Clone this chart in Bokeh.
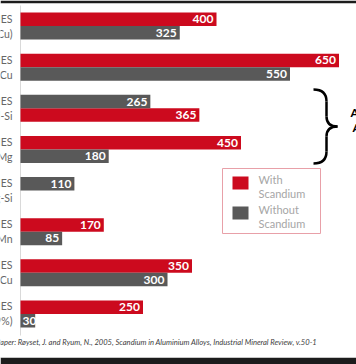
from bokeh.plotting import figure
from bokeh.models import Range1d, ColumnDataSource
from bokeh.core.properties import value
from bokeh.embed import file_html
from bokeh.resources import INLINE

# ---------------- data ----------------
alloys = [
    "7XXX SERIES\n(Al-Zn-Mg-Cu)",
    "2XXX SERIES\nAl-Cu",
    "4XXX SERIES\nAl-Si",
    "5XXX SERIES\nAl-Mg",
    "6XXX SERIES\nAl-Mg-Si",
    "3XXX SERIES\nAl-Mn",
    "8XXX SERIES\nAl-Li-Cu",
    "1XXX SERIES\n(Al 99%)",
]
with_scandium = [400, 650, 365, 450, None, 170, 350, 250]
without_scandium = [325, 550, 265, 180, 110, 85, 300, 30]
with_on_top = [True, True, False, True, False, True, True, True]
legend_labels = ["With\nScandium", "Without\nScandium"]
side_note = ["Aerospace", "Alloys"]
source_text = ("Source Paper: Røyset, J. and Ryum, N., 2005, Scandium in Aluminium Alloys, "
               "Industrial Mineral Review, v.50-1")

RED = "#cc0a1e"
GREY = "#595959"
FONT = "Lato"

W, H = 356, 364
TOP_B, BOT_B = 3, 7
PX_PER_UNIT = 0.49     # horizontal scale
ZERO_PX = 20           # where value 0 sits
GROUP_PX = 41.14       # group period
FIRST_CENTER_PX = 25.5
SHORT = 60             # bars shorter than this get their label at the bar start


def xd(px):
    return (px - ZERO_PX) / PX_PER_UNIT


def yd(py):
    return (py - FIRST_CENTER_PX) / GROUP_PX


bar_h = 13.5 / GROUP_PX

p = figure(width=W, height=H, x_range=Range1d(xd(0), xd(W)),
           y_range=Range1d(yd(H - BOT_B), yd(TOP_B)),
           x_axis_type=None, y_axis_type=None, toolbar_location=None,
           output_backend="svg", min_border_left=0, min_border_right=0,
           min_border_top=TOP_B, min_border_bottom=BOT_B)
p.grid.visible = False
p.outline_line_color = None
p.border_fill_color = "#1c1c1c"
p.background_fill_color = "white"

# bar positions
wy, wv, gy, gv = [], [], [], []
for i, (a, b, top) in enumerate(zip(with_scandium, without_scandium, with_on_top)):
    off = -bar_h / 2 if top else bar_h / 2
    if a is not None:
        wy.append(i + off)
        wv.append(a)
    if b is not None:
        gy.append(i - off)
        gv.append(b)

src_w = ColumnDataSource(dict(y=wy, v=wv))
src_g = ColumnDataSource(dict(y=gy, v=gv))

# axis line
p.segment(x0=[0], x1=[0], y0=[yd(5)], y1=[yd(335)], line_color="#d9d9d9", line_width=1)

p.hbar(y="y", left=0, right="v", height=bar_h, fill_color=RED, line_color=None, source=src_w)
p.hbar(y="y", left=0, right="v", height=bar_h, fill_color=GREY, line_color=None, source=src_g)

ly, lv, sy, sv = [], [], [], []
for ys, vs in ((wy, wv), (gy, gv)):
    for y, v in zip(ys, vs):
        if v >= SHORT:
            ly.append(y); lv.append(v)
        else:
            sy.append(y); sv.append(v)

lab_style = dict(text_baseline="middle", text_color="white", text_font=value(FONT),
                 text_font_style="bold", text_font_size="12px")
p.text(x=lv, y=ly, text=[str(v) for v in lv], x_offset=-3, text_align="right", **lab_style)
p.text(x=[0] * len(sv), y=sy, text=[str(v) for v in sv], x_offset=2, text_align="left", **lab_style)

# category labels (cropped by left edge)
p.text(x=[xd(12)] * len(alloys), y=list(range(len(alloys))), text=alloys,
       text_align="right", text_baseline="middle", text_color="#666666",
       text_font=value(FONT), text_font_size="10.5px", text_line_height=1.25)

# brace
p.quadratic(x0=[xd(313), xd(326), xd(313), xd(326)],
            y0=[yd(89), yd(116), yd(163), yd(136)],
            x1=[xd(326), xd(337), xd(326), xd(337)],
            y1=[yd(101), yd(126), yd(151), yd(126)],
            cx=[xd(326), xd(326), xd(326), xd(326)],
            cy=[yd(89), yd(126), yd(163), yd(126)],
            line_color="black", line_width=2.5)
p.segment(x0=[xd(326), xd(326)], x1=[xd(326), xd(326)],
          y0=[yd(101), yd(136)], y1=[yd(116), yd(151)], line_color="black", line_width=2.5)
p.text(x=[xd(350), xd(352)], y=[yd(112), yd(127)], text=side_note, text_align="left",
       text_baseline="middle", text_color="black", text_font=value(FONT),
       text_font_style="bold", text_font_size="12px")

# legend (drawn by hand to match the boxed layout)
p.quad(left=[xd(222)], right=[xd(320)], top=[yd(168)], bottom=[yd(233)],
       fill_color="white", line_color="#e8a0a8", line_width=1)
p.quad(left=[xd(232)] * 2, right=[xd(248)] * 2,
       top=[yd(176), yd(206)], bottom=[yd(189), yd(219)],
       fill_color=[RED, GREY], line_color=None)
p.text(x=[xd(258)] * 2, y=[yd(186), yd(216)], text=legend_labels, text_align="left",
       text_baseline="middle", text_color="#a6a6a6", text_font=value(FONT),
       text_font_size="11px", text_line_height=1.1)

# source
p.text(x=[xd(317)], y=[yd(341)], text=[source_text], text_align="right",
       text_baseline="middle", text_color="#404040", text_font=value(FONT),
       text_font_style="italic", text_font_size="7.6px")

open("out.html", "w").write(file_html(p, INLINE))
